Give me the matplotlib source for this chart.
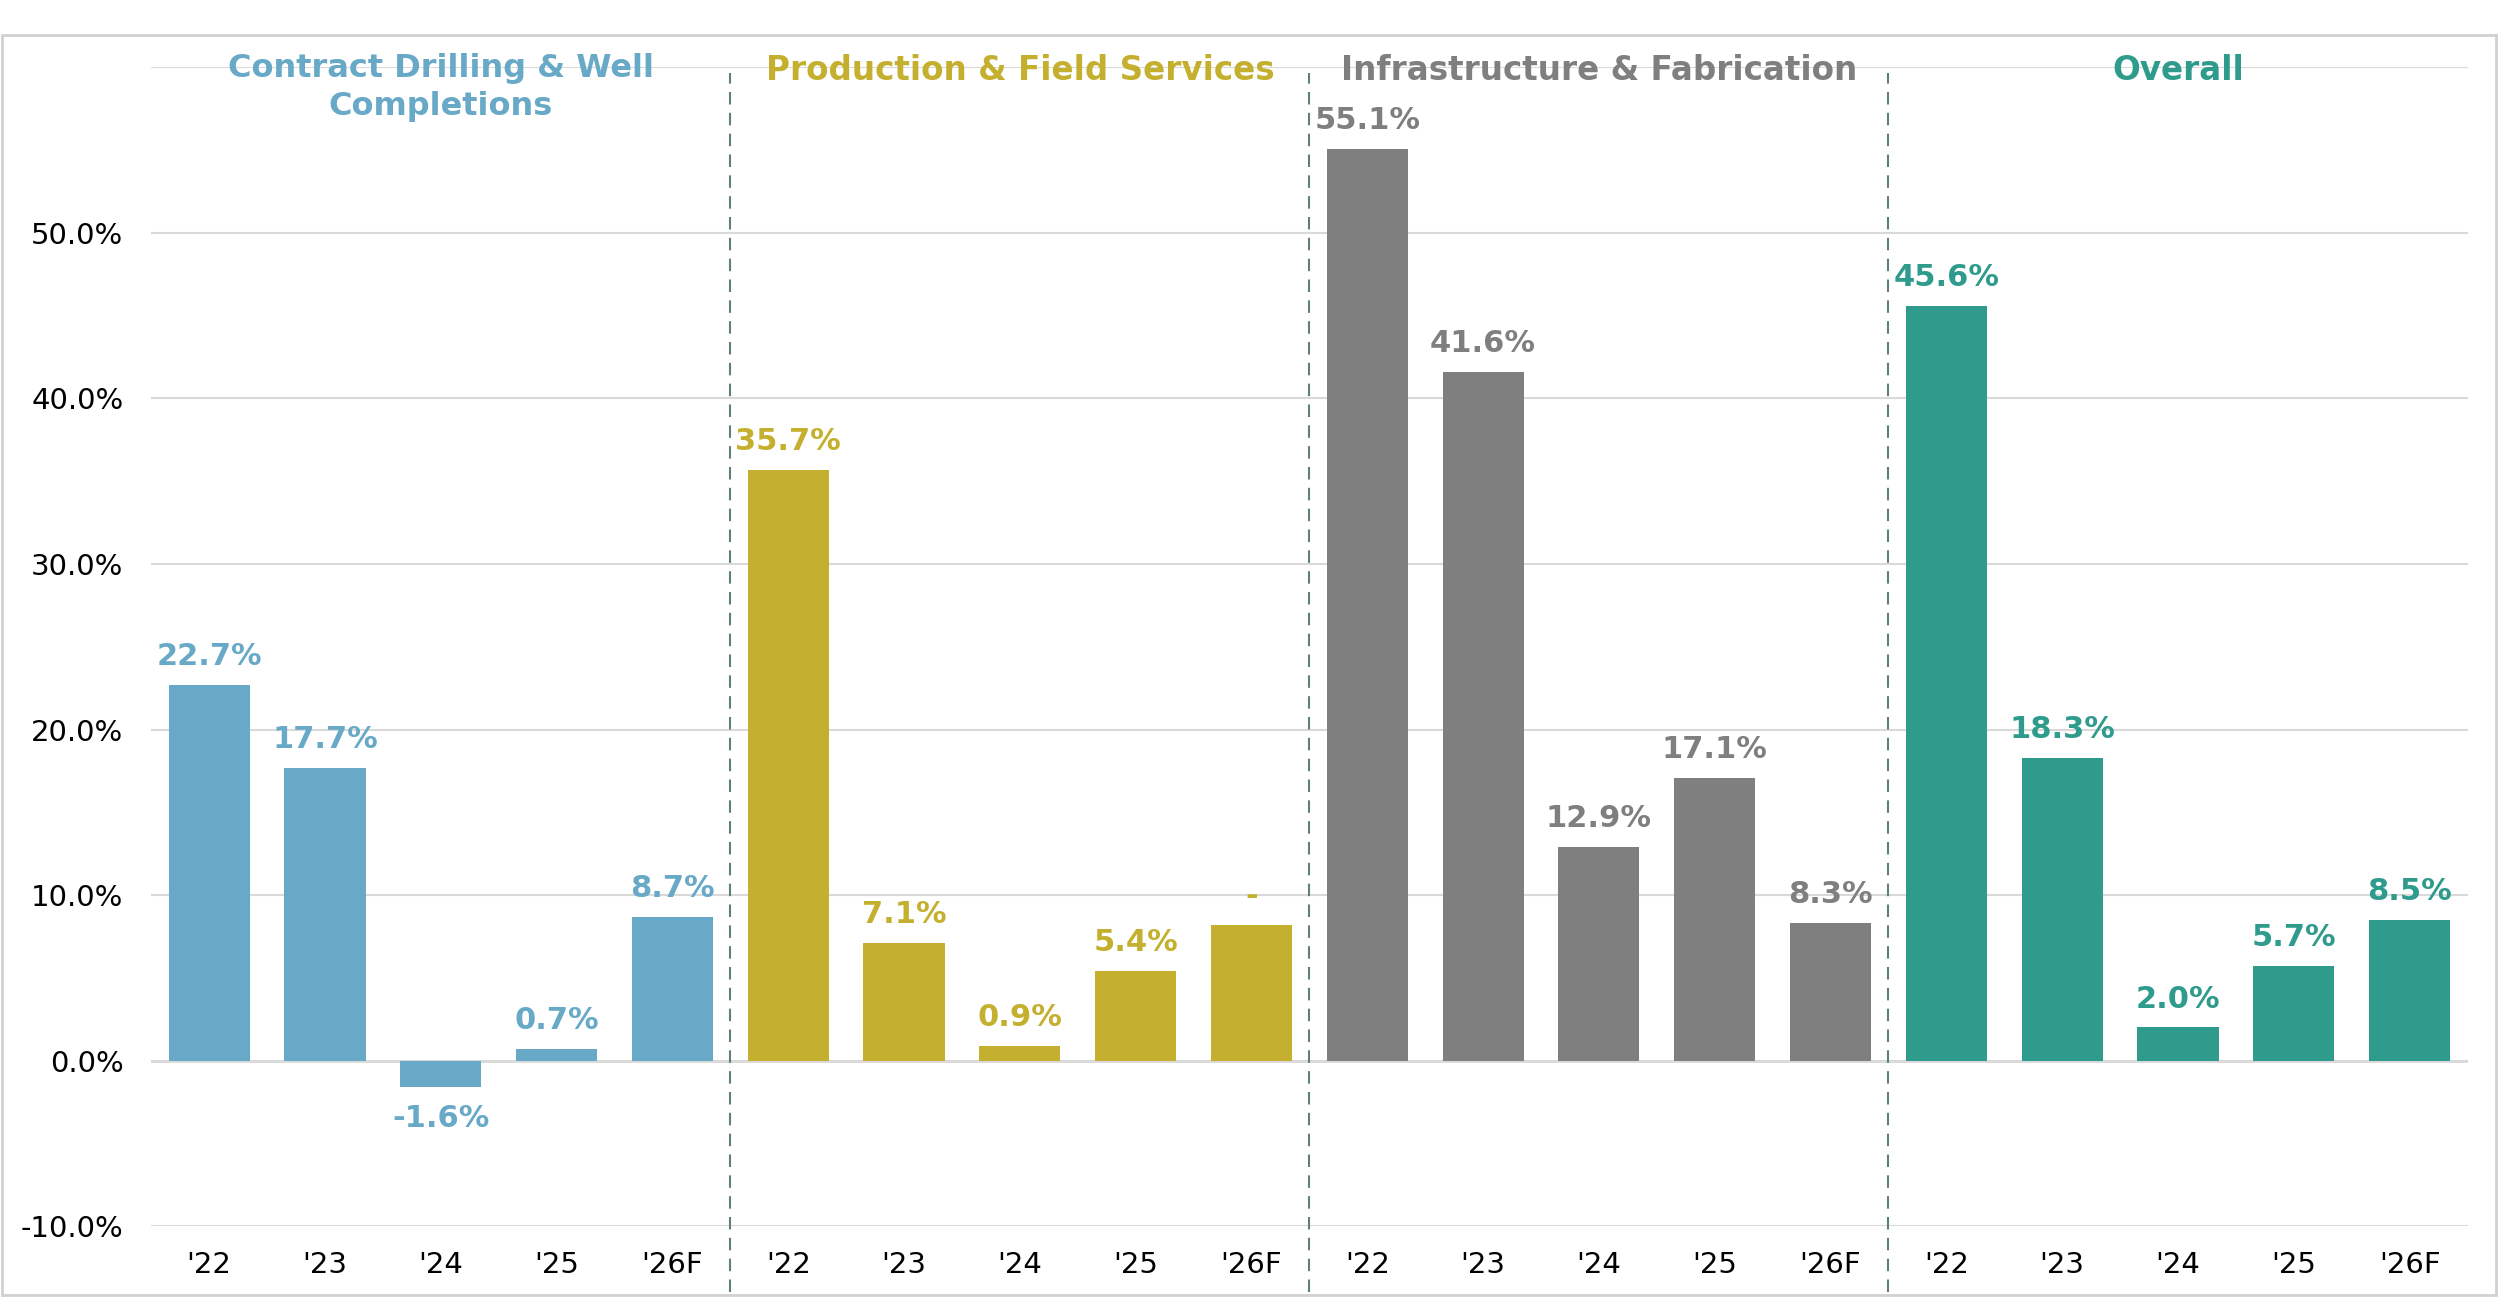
import matplotlib.pyplot as plt
from matplotlib.patches import Rectangle
from matplotlib.transforms import blended_transform_factory
import numpy as np

# data
groups = ["Contract Drilling & Well\nCompletions", "Production & Field Services",
          "Infrastructure & Fabrication", "Overall"]
years = ["'22", "'23", "'24", "'25", "'26F"]
drilling = [22.7, 17.7, -1.6, 0.7, 8.7]
production = [35.7, 7.1, 0.9, 5.4, 8.2]
infrastructure = [55.1, 41.6, 12.9, 17.1, 8.3]
overall = [45.6, 18.3, 2.0, 5.7, 8.5]
production_labels = ["35.7%", "7.1%", "0.9%", "5.4%", "-"]

colors = ["#67A9C6", "#C4B02E", "#7F7F7F", "#2E9B8C"]
series = [drilling, production, infrastructure, overall]

plt.rcParams["font.family"] = "DejaVu Sans"

fig = plt.figure(figsize=(25, 12.97), dpi=100)
ax = fig.add_axes([0.0605, 0.0547, 0.9265, 0.8933])

n = len(years)
for gi, vals in enumerate(series):
    xs = np.arange(n) + gi * n
    ax.bar(xs, vals, width=0.70, color=colors[gi], zorder=3)
    labels = production_labels if gi == 1 else [f"{v:.1f}%" for v in vals]
    for x, v, lab in zip(xs, vals, labels):
        off = 10 if v >= 0 else -12
        ax.annotate(lab, (x, v), xytext=(0, off), textcoords="offset points",
                    ha="center", va="bottom" if v >= 0 else "top",
                    fontsize=22, fontweight="bold", color=colors[gi])

# group titles
for gi, title in enumerate(groups):
    cx = gi * n + (n - 1) / 2
    if "\n" in title:
        ax.text(cx, 60.9, title, ha="center", va="top", fontsize=23,
                fontweight="bold", color=colors[gi], linespacing=1.3)
    else:
        ax.text(cx, 59.8, title, ha="center", va="center", fontsize=23.5,
                fontweight="bold", color=colors[gi])

# dashed separators between groups
trans = blended_transform_factory(ax.transData, ax.transAxes)
for gi in range(1, len(groups)):
    sx = gi * n - 0.5
    ax.plot([sx, sx], [-0.057, 0.995], transform=trans, clip_on=False,
            color="#5E7F7C", lw=1.5, ls=(0, (6, 4)), zorder=4)

ax.set_xlim(-0.5, len(groups) * n - 0.5)
ax.set_ylim(-10, 60)
ax.set_yticks(np.arange(-10, 60, 10))
ax.set_yticklabels([f"{t:.1f}%" for t in np.arange(-10, 60, 10)])
ax.set_xticks(np.arange(len(groups) * n))
ax.set_xticklabels(years * len(groups))
ax.set_yticks([60], minor=True)
ax.tick_params(axis="both", which="both", length=0, labelsize=21, colors="#000000")
ax.tick_params(axis="y", pad=20)
ax.tick_params(axis="x", pad=18)

ax.grid(axis="y", which="both", color="#D9D9D9", lw=1.5, zorder=0)
ax.axhline(0, color="#D9D9D9", lw=2, zorder=2)
for s in ax.spines.values():
    s.set_visible(False)

fig.patches.append(Rectangle((0.0008, 0.0015), 0.9975, 0.9715, transform=fig.transFigure,
                             fill=False, edgecolor="#D0D0D0", lw=2))

fig.savefig("out.png", dpi=100, facecolor="white")
